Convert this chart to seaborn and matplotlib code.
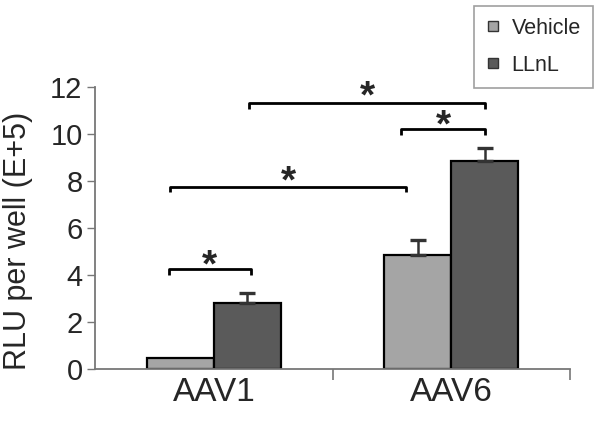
import matplotlib
matplotlib.use("Agg")
import matplotlib.pyplot as plt
from matplotlib.lines import Line2D
import seaborn as sns
import pandas as pd

categories = ["AAV1", "AAV6"]
treatments = ["Vehicle", "LLnL"]
vehicle_vals = [0.45, 4.85]
llnl_vals = [2.82, 8.86]
vehicle_err = [0.0, 0.64]
llnl_err = [0.43, 0.53]
colors = ["#a5a5a5", "#5a5a5a"]

# significance brackets: (x_left, x_right, y_line, y_star, label)
brackets = [(-0.19, 0.155, 4.24, 4.66, "*"),
            (-0.185, 0.81, 7.76, 8.26, "*"),
            (0.79, 1.14, 10.2, 10.62, "*"),
            (0.15, 1.14, 11.3, 11.86, "*")]

df = pd.DataFrame({
    "cat": categories * 2,
    "treat": [treatments[0]] * 2 + [treatments[1]] * 2,
    "val": vehicle_vals + llnl_vals,
    "err": vehicle_err + llnl_err,
})

sns.set_theme(style="white")
plt.rcParams["font.family"] = ["Liberation Sans", "DejaVu Sans"]

fig = plt.figure(figsize=(6.02, 4.24), dpi=100)
ax = fig.add_axes([0.158, 0.13, 0.789, 0.665])

sns.barplot(data=df, x="cat", y="val", hue="treat", order=categories,
            hue_order=treatments, palette=colors, width=0.565,
            errorbar=None, edgecolor="black", linewidth=1.6, ax=ax,
            legend=False)

# error bars (upper only) located on the drawn bars
for t_i, t in enumerate(treatments):
    cont = ax.containers[t_i]
    sub = df[df.treat == t].set_index("cat").loc[categories]
    for bar, v, e in zip(cont, sub["val"], sub["err"]):
        if e > 0:
            xc = bar.get_x() + bar.get_width() / 2
            ax.errorbar(xc, v, yerr=[[0], [e]], fmt="none", ecolor="#333333",
                        elinewidth=1.8, capsize=6, capthick=2.4, zorder=1)

star_fs = 28
for xl, xr, y, ys, s in brackets:
    ax.plot([xl, xl, xr, xr], [y - 0.25, y, y, y - 0.25], color="black",
            lw=2, solid_capstyle="butt", clip_on=False)
    ax.annotate(s, xy=((xl + xr) / 2, ys), xytext=(0, -0.45 * star_fs),
                textcoords="offset points", ha="center", va="baseline",
                fontsize=star_fs, fontweight="bold", annotation_clip=False)

ax.set_ylim(0, 12)
ax.set_xlim(-0.5, 1.5)
ax.set_yticks(range(0, 13, 2))
ax.set_xticks([0, 1])
ax.set_xticklabels(categories, fontsize=24)
ax.tick_params(axis="y", labelsize=21, length=6, width=1, color="#777777",
               left=True, pad=3)
ax.tick_params(axis="x", length=0, pad=6)
# ticks at group boundaries on x-axis
ax.set_xticks([0.5, 1.5], minor=True)
ax.tick_params(axis="x", which="minor", length=8, width=1.2, color="#777777",
               bottom=True, direction="out")
ax.set_xlabel("")
ax.set_ylabel("RLU per well (E+5)", fontsize=22)
ax.yaxis.set_label_coords(-0.13, 0.455)
for side in ["top", "right"]:
    ax.spines[side].set_visible(False)
for side in ["left", "bottom"]:
    ax.spines[side].set_color("#777777")
    ax.spines[side].set_linewidth(1.3)

handles = [Line2D([], [], marker="s", linestyle="none", markersize=7.5,
                  markerfacecolor=c, markeredgecolor="#333333",
                  markeredgewidth=1) for c in colors]
leg = fig.legend(handles, treatments, loc="upper left",
                 bbox_to_anchor=(474 / 602, 1 - 6 / 424),
                 frameon=True, fancybox=False, fontsize=15.5,
                 handlelength=0.7, handletextpad=0.5, labelspacing=0.75,
                 borderpad=0.55, borderaxespad=0)
leg.get_frame().set_edgecolor("#888888")
leg.get_frame().set_linewidth(1.2)

fig.savefig("out.png", dpi=100)
